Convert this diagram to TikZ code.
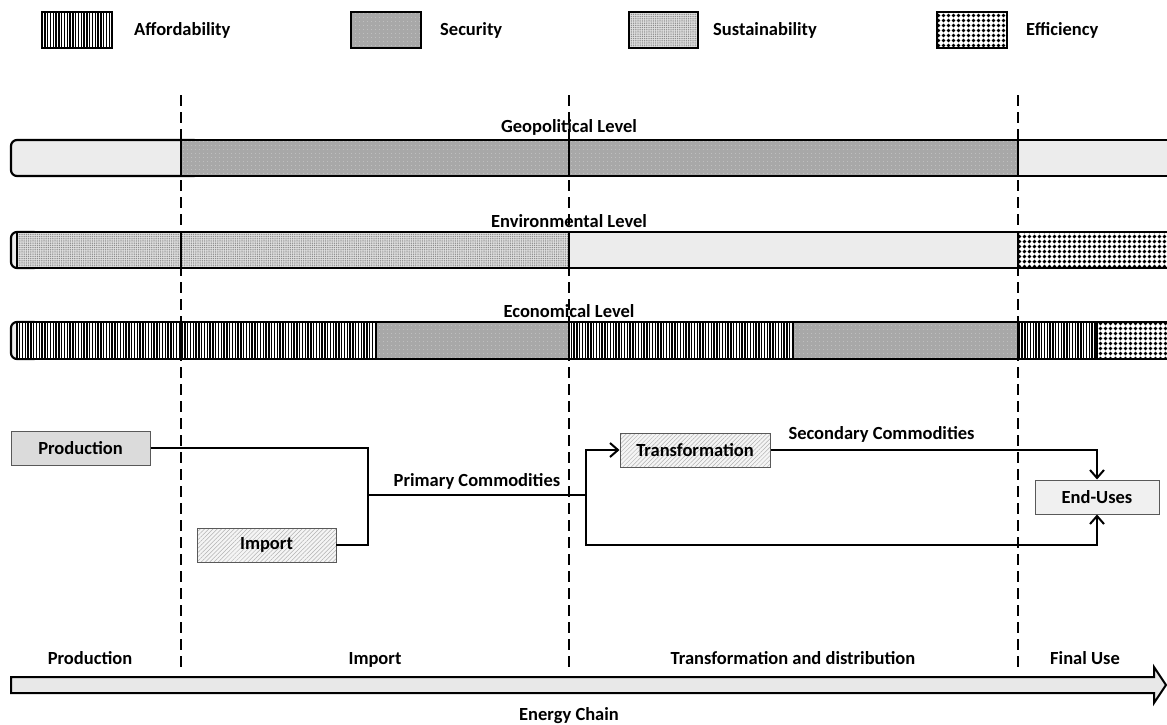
\documentclass[tikz,border=0pt]{standalone}
\usepackage{fontspec}
\setmainfont{Carlito}
\usetikzlibrary{arrows.meta, patterns.meta}

\begin{document}
\begin{tikzpicture}[
  x=1pt, y=-1pt,
  >={Straight Barb[length=8pt, width=14pt, line width=2pt]},
  every node/.style={font=\bfseries\fontsize{18.5}{22}\selectfont, inner sep=1pt},
  afford/.style={draw, line width=2.2pt, preaction={fill=white},
             pattern={Lines[angle=90, distance=2.8pt, line width=1.4pt]}, pattern color=black},
  secur/.style={draw, line width=2.2pt, preaction={fill=gray!68},
             pattern={Dots[radius=0.55pt, distance=4pt]}, pattern color=gray!35},
  sustain/.style={draw, line width=2.2pt, preaction={fill=gray!25},
             pattern={Dots[radius=0.75pt, distance=2.2pt]}, pattern color=gray!90},
  plain/.style={draw, line width=2.2pt, fill=gray!15},
  effic/.style={draw, line width=2.2pt, preaction={fill=white},
             pattern={Dots[radius=2.1pt, distance=5.4pt]}, pattern color=black},
  hatch/.style={preaction={fill=gray!8},
             pattern={Lines[angle=45, distance=3pt, line width=0.5pt]}, pattern color=gray!60},
  box/.style={rectangle, draw=gray!70!black, line width=1pt, minimum height=34pt, align=center},
  levellab/.style={anchor=center},
  stagelab/.style={anchor=base},
  divider/.style={line width=1.5pt, dash pattern=on 11pt off 6pt},
  conn/.style={line width=2.2pt}
]
\useasboundingbox (0,0) rectangle (1167,725);
\clip (0,0) rectangle (1167,725);

% Legend
\draw[afford] (42,12) rectangle (112,48);
\node[anchor=west] (lafford) at (133,30) {Affordability};
\draw[secur] (351,12) rectangle (421,48);
\node[anchor=west] (lsecur) at (439,30) {Security};
\draw[sustain] (629,12) rectangle (698,48);
\node[anchor=west] (lsustain) at (712,30) {Sustainability};
\draw[effic] (937,12) rectangle (1007,48);
\node[anchor=west] (leffic) at (1025,30) {Efficiency};

% Stage dividers
\foreach \x in {181,569,1018}
  \draw[divider] (\x,95) -- (\x,673);

% Geopolitical level
\draw[plain, rounded corners=6pt] (11,140) rectangle (200,176);
\foreach \a/\b/\s in {181/569/secur, 569/1018/secur, 1018/1175/plain}
  \path[style=\s] (\a,140) rectangle (\b,176);
\node[levellab] (geo) at (569,127) {Geopolitical Level};

% Environmental level
\draw[plain, rounded corners=6pt] (11,232) rectangle (40,268);
\foreach \a/\b/\s in {17/181/sustain, 181/569/sustain, 569/1018/plain, 1018/1175/effic}
  \path[style=\s] (\a,232) rectangle (\b,268);
\node[levellab] (env) at (569,221) {Environmental Level};

% Economical level
\draw[plain, rounded corners=6pt] (11,322) rectangle (40,359);
\foreach \a/\b/\s in {17/181/afford, 181/376/afford, 376/569/secur, 569/793/afford,
                      793/1018/secur, 1018/1097/afford, 1097/1175/effic}
  \path[style=\s] (\a,322) rectangle (\b,359);
\node[levellab] (eco) at (569,311) {Economical Level};

% Commodity flow
\node[box, fill=gray!28, minimum width=139pt] (prod) at (80.5,448) {Production};
\node[box, hatch, minimum width=139pt] (imp) at (266.5,545) {Import};
\node[box, hatch, minimum width=150pt] (trans) at (695,450) {Transformation};
\node[box, fill=gray!12, minimum width=124pt] (enduse) at (1097,497) {End-Uses};

\coordinate (join) at (368,495);
\coordinate (split) at (586,495);

\draw[conn] (prod.east) -| (join);
\draw[conn] (imp.east) -| (join);
\draw[conn] (join) -- node[above=3pt] (prim) {Primary Commodities} (split);
\draw[conn, ->] (split) |- (trans.west);
\draw[conn, ->] (trans.east) -| node[pos=0.17, above=5pt] (sec) {Secondary Commodities} (enduse.north);
\draw[conn, ->] (split) -- (split |- imp.east) -| (enduse.south);

% Energy chain
\draw[line width=2pt, fill=gray!18] (11,677) -- (1154,677) -- (1154,667) -- (1166,685)
  -- (1154,703) -- (1154,693) -- (11,693) -- cycle;
\node[stagelab] (sprod) at (90,664) {Production};
\node[stagelab] (simp) at (375,664) {Import};
\node[stagelab] (strans) at (793,664) {Transformation and distribution};
\node[stagelab] (sfinal) at (1085,664) {Final Use};
\node (chain) at (569,716) {Energy Chain};

\end{tikzpicture}
\end{document}
